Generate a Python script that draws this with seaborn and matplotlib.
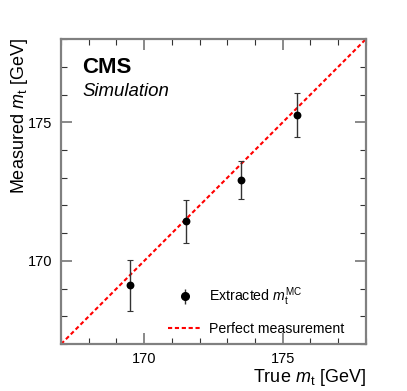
import matplotlib
matplotlib.use("Agg")
import matplotlib.pyplot as plt
import seaborn as sns
import numpy as np
import pandas as pd
from matplotlib.ticker import MultipleLocator
from matplotlib.lines import Line2D

true_mass = [169.5, 171.5, 173.5, 175.5]
measured_mass = [169.12, 171.43, 172.93, 175.27]
measured_err = [0.91, 0.78, 0.68, 0.80]
diag = [167.0, 178.0]

sns.set_theme(style="ticks")
plt.rcParams['font.family'] = ['Liberation Sans', 'DejaVu Sans']
plt.rcParams['mathtext.fontset'] = 'custom'
plt.rcParams['mathtext.rm'] = 'Liberation Sans'
plt.rcParams['mathtext.it'] = 'Liberation Sans:italic'
plt.rcParams['mathtext.bf'] = 'Liberation Sans:bold'
for k in ['text.color', 'axes.labelcolor', 'xtick.labelcolor', 'ytick.labelcolor']:
    plt.rcParams[k] = 'black'

fig = plt.figure(figsize=(4.07, 3.91), dpi=100)
ax = fig.add_axes([0.150, 0.120, 0.749, 0.780])

dash = (0, (2.0, 1.3))
line_df = pd.DataFrame({"x": diag, "y": diag})
sns.lineplot(data=line_df, x="x", y="y", ax=ax, color="red", lw=1.5,
             linestyle=dash, zorder=2, legend=False)

ax.errorbar(true_mass, measured_mass, yerr=measured_err, fmt='none',
            ecolor='#333333', elinewidth=1.0, capsize=2, capthick=0.8, zorder=3)
df = pd.DataFrame({"x": true_mass, "y": measured_mass})
sns.scatterplot(data=df, x="x", y="y", ax=ax, color='black', s=32,
                linewidth=0, zorder=4, legend=False)

ax.set_xlim(167, 178)
ax.set_ylim(167, 178)
ax.xaxis.set_major_locator(MultipleLocator(5))
ax.yaxis.set_major_locator(MultipleLocator(5))
ax.xaxis.set_minor_locator(MultipleLocator(1))
ax.yaxis.set_minor_locator(MultipleLocator(1))
ax.tick_params(which='both', direction='in', top=True, right=True, labelsize=10.5)
ax.tick_params(which='major', length=8, width=1.3, color='#808080', pad=6)
ax.tick_params(which='minor', length=4, width=0.8, color='#333333')
for sp in ax.spines.values():
    sp.set_color('#808080')
    sp.set_linewidth(1.6)

ax.set_xlabel("")
ax.set_ylabel("")
fig.text(366 / 407, 1 - 382 / 391, r"True $m_\mathrm{t}$ [GeV]", fontsize=13,
         ha='right', va='baseline')
fig.text(9 / 407, 1 - 38 / 391, r"Measured $m_\mathrm{t}$ [GeV]", fontsize=13,
         ha='left', va='top', rotation=90)

ax.text(0.07, 0.907, "CMS", transform=ax.transAxes, fontsize=16, fontweight='bold', va='center')
ax.text(0.07, 0.828, "Simulation", transform=ax.transAxes, fontsize=13.4, style='italic', va='center')

h_pt = ax.errorbar([], [], yerr=[], fmt='o', color='black', ecolor='#333333',
                   markersize=5.5, capsize=2, elinewidth=1.0)
h_line = Line2D([], [], color='red', lw=1.5, linestyle=dash)
ax.legend([h_pt, h_line],
          [r"Extracted $m_\mathrm{t}^\mathrm{MC}$", "Perfect measurement"],
          loc='lower left', bbox_to_anchor=(0.31, -0.015), frameon=False,
          fontsize=10.2, handlelength=2.4, handletextpad=0.5, labelspacing=0.95)

fig.savefig("out.png", dpi=100)
